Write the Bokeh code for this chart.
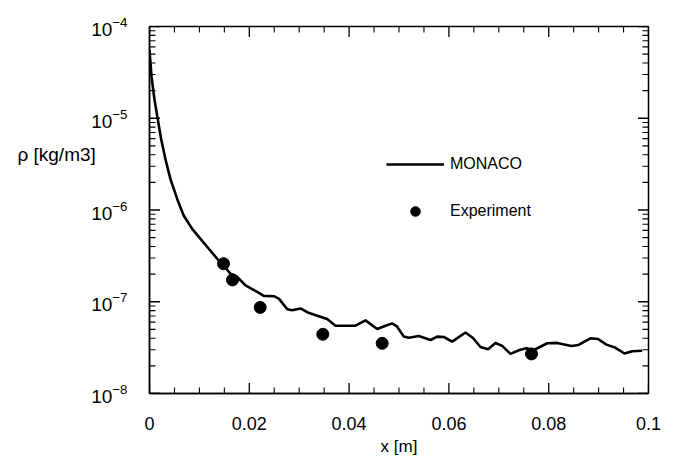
import numpy as np
from bokeh.plotting import figure
from bokeh.models import (SingleIntervalTicker, FixedTicker, Legend, LegendItem, Range1d)
from bokeh.embed import file_html
from bokeh.resources import INLINE

# MONACO simulation curve
x_monaco = [0.0, 0.0004, 0.001, 0.00166, 0.00234, 0.0032, 0.0042, 0.00555, 0.00687,
            0.00856, 0.01022, 0.01188, 0.01357, 0.01489, 0.01623, 0.01758, 0.01924,
            0.02058, 0.02158, 0.0229, 0.02491, 0.02591, 0.0276, 0.0286, 0.03026,
            0.03172, 0.03361, 0.03561, 0.03727, 0.04128, 0.04329, 0.04563, 0.0473,
            0.04864, 0.04964, 0.05096, 0.05196, 0.05397, 0.05631, 0.05766, 0.05898,
            0.06066, 0.06333, 0.06483, 0.06633, 0.06784, 0.06934, 0.07068, 0.07234,
            0.07415, 0.07555, 0.07695, 0.0797, 0.0817, 0.08457, 0.08597, 0.08838,
            0.08988, 0.09158, 0.09339, 0.09519, 0.09673, 0.09874]
rho_monaco = [5.56e-5, 2.86e-5, 1.60e-5, 9.7e-6, 5.89e-6, 3.57e-6, 2.17e-6, 1.32e-6, 8.67e-7,
              6.22e-7, 4.85e-7, 3.78e-7, 2.94e-7, 2.47e-7, 2.02e-7, 1.86e-7, 1.51e-7,
              1.37e-7, 1.28e-7, 1.16e-7, 1.15e-7, 1.08e-7, 8.30e-8, 8.09e-8, 8.45e-8,
              7.64e-8, 7.04e-8, 6.47e-8, 5.48e-8, 5.48e-8, 6.26e-8, 5.04e-8, 5.48e-8,
              5.81e-8, 5.35e-8, 4.17e-8, 4.06e-8, 4.23e-8, 3.83e-8, 4.17e-8, 4.13e-8,
              3.68e-8, 4.62e-8, 4.03e-8, 3.21e-8, 3.03e-8, 3.55e-8, 3.30e-8, 2.70e-8,
              2.98e-8, 3.11e-8, 2.96e-8, 3.53e-8, 3.56e-8, 3.30e-8, 3.38e-8, 4.00e-8,
              3.93e-8, 3.41e-8, 3.15e-8, 2.73e-8, 2.89e-8, 2.92e-8]

# Experimental points
x_exp = [0.01483, 0.01663, 0.02218, 0.03473, 0.04663, 0.07655]
rho_exp = [2.6e-7, 1.73e-7, 8.67e-8, 4.42e-8, 3.52e-8, 2.7e-8]

x_label = "x [m]"
y_label = "\u03c1 [kg/m3]"
series_names = ["MONACO", "Experiment"]

X_MIN, X_MAX = 0.0, 0.1
Y_MIN, Y_MAX = 1e-8, 1e-4
X_MAJOR_STEP, X_MINOR_STEP = 0.02, 0.005
Y_LABEL_AT = 4e-6   # height at which the y-axis title sits (horizontal, left of axis)

FONT = "Liberation Sans"

p = figure(width=676, height=458, y_axis_type="log",
           x_range=Range1d(X_MIN, X_MAX), y_range=Range1d(Y_MIN, Y_MAX),
           output_backend="svg", toolbar_location=None,
           min_border_left=149, min_border_right=28,
           min_border_top=26, min_border_bottom=62)
p.grid.visible = False
p.background_fill_color = "white"
p.border_fill_color = "white"
p.outline_line_color = "black"
p.outline_line_width = 1.5

def style(ax):
    ax.axis_line_color = "black"
    ax.axis_line_width = 1.5
    ax.major_tick_line_color = None
    ax.minor_tick_line_color = None
    ax.major_tick_out = 0
    ax.minor_tick_out = 0
    ax.major_label_text_font = FONT
    ax.major_label_text_color = "black"

xa = p.xaxis[0]
xa.ticker = SingleIntervalTicker(interval=X_MAJOR_STEP, num_minor_ticks=4)
style(xa)
xa.major_label_text_font_size = "18px"
xa.major_label_standoff = 23
xa.axis_label = x_label
xa.axis_label_text_font = FONT
xa.axis_label_text_font_size = "17px"
xa.axis_label_text_font_style = "normal"
xa.axis_label_text_color = "black"
xa.axis_label_standoff = 4

decades = np.arange(-8, -3)
y_major = 10.0 ** decades
y_minor = [k * 10.0 ** d for d in decades[:-1] for k in range(2, 10)]

ya = p.yaxis[0]
ya.ticker = FixedTicker(ticks=list(y_major) + [Y_LABEL_AT], minor_ticks=[])
style(ya)
ya.major_label_text_font_size = "19px"
ya.major_label_standoff = 22
ya.major_label_overrides = {Y_LABEL_AT: y_label + "\u00a0" * 6}

# inward tick marks on all four sides (dash markers, outer half clipped by the frame)
x_major = np.arange(X_MIN, X_MAX + 1e-9, X_MAJOR_STEP)
x_all = np.arange(X_MIN, X_MAX + 1e-9, X_MINOR_STEP)
x_minor = [v for v in x_all if min(abs(v - x_major)) > 1e-9]

TICK_MAJ, TICK_MIN = 21, 12
for yy in (Y_MIN, Y_MAX):
    p.scatter(x_major, [yy] * len(x_major), marker="dash", size=TICK_MAJ,
              angle=np.pi / 2, line_color="black", line_width=1.3)
    p.scatter(x_minor, [yy] * len(x_minor), marker="dash", size=TICK_MIN,
              angle=np.pi / 2, line_color="black", line_width=1.1)
for xx in (X_MIN, X_MAX):
    p.scatter([xx] * len(y_major), y_major, marker="dash", size=TICK_MAJ,
              line_color="black", line_width=1.3)
    p.scatter([xx] * len(y_minor), y_minor, marker="dash", size=TICK_MIN,
              line_color="black", line_width=1.1)

line = p.line(x_monaco, rho_monaco, line_color="black", line_width=2.6)
dots = p.scatter(x_exp, rho_exp, size=12, color="black")

legend = Legend(items=[LegendItem(label=series_names[0], renderers=[line]),
                       LegendItem(label=series_names[1], renderers=[dots])],
                location=(237, 170), orientation="vertical",
                glyph_width=58, glyph_height=24, label_standoff=6,
                spacing=23, padding=0, margin=0,
                label_text_font=FONT, label_text_font_size="16px",
                label_text_color="black",
                border_line_color=None, background_fill_alpha=0)
p.add_layout(legend, "center")

open("out.html", "w").write(file_html(p, INLINE))
